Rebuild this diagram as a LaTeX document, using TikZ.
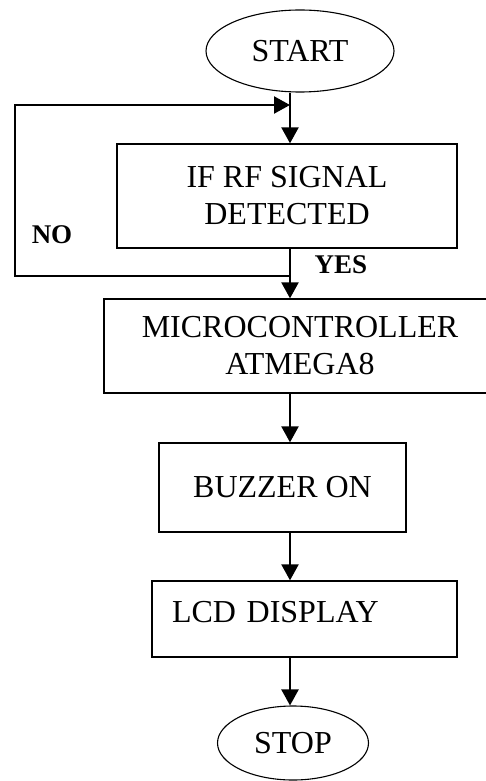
\documentclass[tikz,border=0pt]{standalone}
\usepackage{fontspec}
\setmainfont{Liberation Serif}
\usetikzlibrary{positioning,arrows.meta,shapes.geometric}

\begin{document}
\begin{tikzpicture}[x=1pt, y=-1pt,
  font=\fontsize{32}{37}\selectfont,
  box/.style={draw, line width=1.3pt, align=center, inner sep=0pt},
  term/.style={draw, ellipse, line width=1.1pt, inner sep=0pt},
  arr/.style={-{Triangle[length=16pt, width=17pt]}, line width=2.3pt},
  lbl/.style={font=\fontsize{27}{30}\selectfont\bfseries}]
  \useasboundingbox (0,0) rectangle (486,781);
  \node[term, minimum width=188pt, minimum height=82pt] (start) at (300,51) {START};
  \node[box, minimum width=340pt, minimum height=104pt] (detect) at (287,196) {IF RF SIGNAL\\ DETECTED};
  \node[box, minimum width=392pt, minimum height=94pt] (mcu) at (300,346) {MICROCONTROLLER\\ ATMEGA8};
  \node[box, minimum width=247pt, minimum height=89pt] (buzzer) at (282.5,487.5) {BUZZER ON};
  \node[box, minimum width=305pt, minimum height=76pt, text width=265pt, inner xsep=20pt, align=left,
        text height=22pt, text depth=15.5pt] (lcd) at (304.5,619) {LCD DISPLAY};
  \node[term, minimum width=151pt, minimum height=74pt] (stop) at (293,743) {STOP};
  \node[lbl] (no) at (52,235) {NO};
  \node[lbl] (yes) at (341,265) {YES};
  % main line and the NO loop
  \coordinate (join) at (290,105);
  \coordinate (split) at (290,276);
  \coordinate (back) at (15,276);
  \draw[arr] (start.south -| join) -- (detect.north -| join);
  \draw[arr] (detect.south -| split) -- (mcu.north -| split);
  \draw[arr] (split) -- (back) |- (join);
  \draw[arr] (mcu.south -| split) -- (buzzer.north -| split);
  \draw[arr] (buzzer.south -| split) -- (lcd.north -| split);
  \draw[arr] (lcd.south -| split) -- (stop.north -| split);
\end{tikzpicture}
\end{document}
